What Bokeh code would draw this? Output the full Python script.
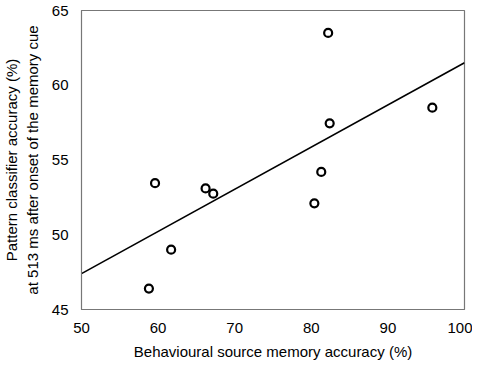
from bokeh.plotting import figure
from bokeh.models import Range1d, FixedTicker
from bokeh.embed import file_html
from bokeh.resources import INLINE

# data
behav_acc = [58.8, 61.7, 59.6, 66.2, 67.2, 80.4, 82.2, 82.4, 81.3, 95.8]
pattern_acc = [46.4, 49.0, 53.45, 53.1, 52.75, 52.1, 63.5, 57.45, 54.2, 58.5]
fit_x = [50, 100]
fit_y = [47.4, 61.5]
x_ticks = [50, 60, 70, 80, 90, 100]
y_ticks = [45, 50, 55, 60, 65]

FONT = "Liberation Sans"

p = figure(width=472, height=362, output_backend="svg", toolbar_location=None,
           x_range=Range1d(50, 100), y_range=Range1d(45, 65),
           min_border_top=10, min_border_right=8, min_border_left=10, min_border_bottom=6)

p.line(fit_x, fit_y, line_color="black", line_width=1.6)
p.scatter(behav_acc, pattern_acc, marker="circle", size=8, fill_color="white",
          line_color="black", line_width=2.2)

p.xgrid.visible = False
p.ygrid.visible = False
p.outline_line_color = "#777777"
p.outline_line_width = 1.2

for ax in (p.xaxis[0], p.yaxis[0]):
    ax.axis_line_color = "#777777"
    ax.major_tick_line_color = None
    ax.minor_tick_line_color = None
    ax.major_label_text_font = FONT
    ax.major_label_text_font_size = "15px"
    ax.major_label_text_color = "black"
    ax.axis_label_text_font = FONT
    ax.axis_label_text_font_size = "15px"
    ax.axis_label_text_font_style = "normal"
    ax.axis_label_text_color = "black"

p.xaxis.ticker = FixedTicker(ticks=x_ticks)
p.yaxis.ticker = FixedTicker(ticks=y_ticks)
p.xaxis.major_label_standoff = 7
p.yaxis.major_label_standoff = 7
p.xaxis.axis_label = "Behavioural source memory accuracy (%)"
p.yaxis.axis_label = "Pattern classifier accuracy (%)\nat 513 ms after onset of the memory cue"
p.xaxis.axis_label_standoff = 7
p.yaxis.axis_label_standoff = 8

open("out.html", "w").write(file_html(p, INLINE))
